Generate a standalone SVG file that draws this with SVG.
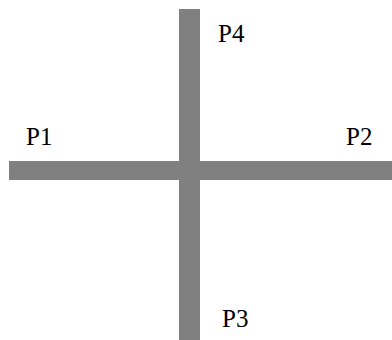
<svg xmlns="http://www.w3.org/2000/svg" width="392" height="340" viewBox="0 0 392 340">
<style>
.bar{fill:#808080}
</style>
<rect width="392" height="340" fill="#fff"/>
<g id="connectors">
<rect class="bar" x="9" y="161" width="383" height="19"/>
<rect class="bar" x="179" y="9" width="21" height="331"/>
</g>
<g font-family="Liberation Serif, Times New Roman, serif" font-size="25" fill="#000">
<g id="P1"><text x="26" y="145">P1</text></g>
<g id="P2"><text x="346" y="145">P2</text></g>
<g id="P3"><text x="222" y="327">P3</text></g>
<g id="P4"><text x="218" y="42">P4</text></g>
</g>
</svg>
